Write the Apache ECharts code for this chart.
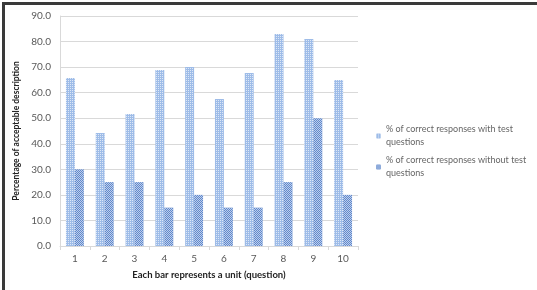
<!DOCTYPE html>
<html><head><meta charset="utf-8">
<script src="https://cdn.jsdelivr.net/npm/echarts@6/dist/echarts.min.js"></script>
<style>html,body{margin:0;padding:0;background:#fff}#c{width:537px;height:290px}</style>
</head><body><div id="c"></div>
<script>
const categories = ['1','2','3','4','5','6','7','8','9','10'];
const withTest = [65.7, 44.2, 51.7, 68.9, 70.0, 57.5, 67.7, 83.0, 81.0, 65.0];
const withoutTest = [30, 25, 25, 15, 20, 15, 15, 25, 50, 20];
const yTicks = [0,10,20,30,40,50,60,70,80,90];
const seriesNames = ['% of correct responses with test questions', '% of correct responses without test questions'];

const chart = echarts.init(document.getElementById('c'), null, {renderer:'canvas'});
const font = 'Lato, "Liberation Sans", sans-serif';
chart.setOption({
  animation:false,
  backgroundColor:'#fff',
  graphic:[
    {type:'rect', shape:{x:2,y:2,width:535,height:3}, style:{fill:'#3a3a3a'}},
    {type:'rect', shape:{x:2,y:2,width:3,height:288}, style:{fill:'#3a3a3a'}}
  ],
  grid:{left:60, right:179, top:16, bottom:44},
  legend:{
    orient:'vertical', left:371, top:118, itemWidth:5, itemHeight:5, itemGap:5,
    textStyle:{fontFamily:font, fontSize:9, color:'#666', lineHeight:13},
    formatter: n => n.replace(' test questions',' test\nquestions'),
    data: seriesNames
  },
  xAxis:{
    type:'category', data:categories,
    name:'Each bar represents a unit (question)', nameLocation:'middle', nameGap:24,
    nameTextStyle:{fontFamily:font, fontSize:9.5, fontWeight:'bold', color:'#222'},
    axisLine:{lineStyle:{color:'#d9d9d9'}},
    axisTick:{show:true, length:4, lineStyle:{color:'#d9d9d9'}},
    axisLabel:{fontFamily:font, fontSize:10, color:'#595959', margin:8}
  },
  yAxis:{
    type:'value', min:yTicks[0], max:yTicks[yTicks.length-1], interval:10,
    name:'Percentage of acceptable description', nameLocation:'middle', nameGap:34,
    nameTextStyle:{fontFamily:font, fontSize:8.5, fontWeight:'bold', color:'#222'},
    axisLine:{show:true, lineStyle:{color:'#d9d9d9'}},
    axisTick:{show:false},
    splitLine:{lineStyle:{color:'#d9d9d9'}},
    axisLabel:{fontFamily:font, fontSize:10, color:'#595959', margin:9, formatter:v=>v.toFixed(1)}
  },
  series:[
    {name:seriesNames[0], type:'bar', data:withTest, barGap:'0%', barCategoryGap:'40%',
     itemStyle:{color:'#9ebce8', decal:{color:'rgba(255,255,255,0.65)', symbol:'rect', symbolSize:1, dashArrayX:[1,1], dashArrayY:[1,1], rotation:0}}},
    {name:seriesNames[1], type:'bar', data:withoutTest,
     itemStyle:{color:'#5f88cc', decal:{color:'rgba(255,255,255,0.6)', symbol:'rect', symbolSize:1, dashArrayX:[[1,1],[0,1,1,0]], dashArrayY:[1,0], rotation:0}}}
  ]
});
</script></body></html>
